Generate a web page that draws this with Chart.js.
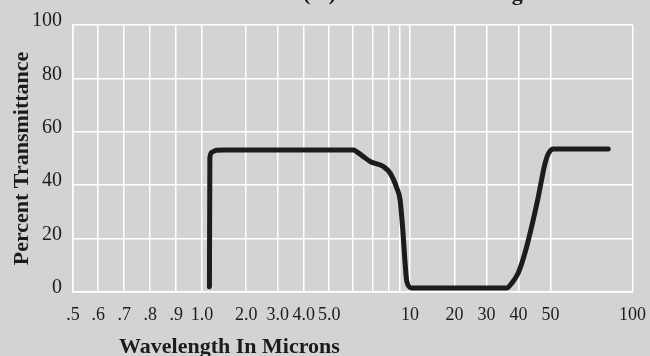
<!DOCTYPE html>
<html>
<head>
<meta charset="utf-8">
<script src="https://cdn.jsdelivr.net/npm/chart.js@4/dist/chart.umd.min.js"></script>
<style>
  html, body { margin: 0; padding: 0; background: #d2d3d5; }
  canvas { display: block; }
</style>
</head>
<body>
<canvas id="chart" width="650" height="356"></canvas>
<script>
// Ruled lines of the wavelength axis and their labels (6-9 µm lines are unlabelled)
const gridMicrons = [0.5, 0.6, 0.7, 0.8, 0.9, 1, 2, 3, 4, 5, 6, 7, 8, 9, 10, 20, 30, 40, 50, 100];
const tickLabels = [".5", ".6", ".7", ".8", ".9", "1.0", "2.0", "3.0", "4.0", "5.0", "", "", "", "", "10", "20", "30", "40", "50", "100"];
// The axis is hand ruled: where each line sits, as % of the axis length
const gridStops = [0, 4.5, 9.15, 13.79, 18.44, 23.04, 30.95, 36.58, 41.22, 45.78, 50.01, 53.58, 56.37, 58.46, 60.25, 68.2, 73.91, 79.63, 85.35, 100];

// Transmission curve
const wavelength = [1.17, 1.18, 1.22, 1.32, 1.5, 6.03, 6.26, 6.53, 6.87, 7.68, 8.15, 8.72, 9.0, 9.27, 9.5, 9.67, 10.38, 36.3, 37.7, 39.9, 42.0, 44.1, 46.2, 48.3, 49.4, 51.7, 85.2];
const transmittance = [2, 50.3, 52.3, 53.1, 53.2, 53.2, 52.2, 50.7, 48.9, 47, 44.5, 38.9, 34.5, 23.3, 10.8, 4, 1.5, 1.5, 3, 7.1, 14.6, 24.5, 35.8, 48.3, 52, 53.6, 53.6];

const INK = "#1e1b1c";
const SERIF = '"Liberation Serif", "Times New Roman", serif';

function interp(v, from, to) {
  const n = from.length;
  let i = 1;
  while (i < n - 1 && v > from[i]) i++;
  const a = from[i - 1], b = from[i];
  return to[i - 1] + (v - a) / (b - a) * (to[i] - to[i - 1]);
}

// linear scale that places values piecewise between the ruled lines
class RuledScale extends Chart.LinearScale {
  static id = "ruled";
  static defaults = Chart.LinearScale.defaults;
  buildTicks() {
    return gridMicrons.map((value) => ({ value }));
  }
  getPixelForValue(value) {
    return this.getPixelForDecimal(interp(value, gridMicrons, gridStops) / 100);
  }
  getValueForPixel(pixel) {
    return interp(this.getDecimalForPixel(pixel) * 100, gridStops, gridMicrons);
  }
}
Chart.register(RuledScale);

const captions = {
  id: "captions",
  afterDraw(chart) {
    const ctx = chart.ctx;
    ctx.save();
    ctx.fillStyle = INK;
    ctx.textAlign = "left";
    ctx.textBaseline = "alphabetic";
    ctx.font = "bold 22px " + SERIF;
    ctx.fillText("Silicon (Si) Transmission Range", 234, 0);
    ctx.fillText("Wavelength In Microns", 119, 352.5);
    ctx.restore();
  },
};

new Chart(document.getElementById("chart"), {
  type: "line",
  data: {
    datasets: [
      {
        data: wavelength.map((x, i) => ({ x, y: transmittance[i] })),
        borderColor: INK,
        borderWidth: 5,
        borderCapStyle: "round",
        borderJoinStyle: "round",
        cubicInterpolationMode: "monotone",
        pointRadius: 0,
        fill: false,
      },
    ],
  },
  plugins: [captions],
  options: {
    responsive: false,
    animation: false,
    devicePixelRatio: 1,
    layout: { padding: { top: 25, right: 17.5, left: 0, bottom: 0 } },
    plugins: { legend: { display: false }, tooltip: { enabled: false } },
    scales: {
      x: {
        type: "ruled",
        min: 0.5,
        max: 100,
        afterFit(scale) {
          scale.height = 64;
          scale.paddingLeft = 0;
          scale.paddingRight = 0;
        },
        grid: { color: "#ffffff", lineWidth: 1.5, drawTicks: false },
        border: { color: "#ffffff", width: 1.5 },
        ticks: {
          autoSkip: false,
          maxRotation: 0,
          padding: 12,
          color: INK,
          font: { family: SERIF, size: 18 },
          callback: (value, index) => tickLabels[index],
        },
      },
      y: {
        min: 0,
        max: 100,
        afterFit(scale) { scale.width = 73; },
        grid: { color: "#ffffff", lineWidth: 1.5, drawTicks: false },
        border: { color: "#ffffff", width: 1.5 },
        ticks: {
          stepSize: 10,
          padding: 11,
          labelOffset: -4,
          color: INK,
          font: { family: SERIF, size: 20 },
          callback: (value) => (value % 20 === 0 ? String(value) : ""),
        },
        title: {
          display: true,
          text: "Percent Transmittance",
          color: INK,
          font: { family: SERIF, size: 22, weight: "bold" },
          padding: { top: 9, bottom: 0 },
        },
      },
    },
  },
});
</script>
</body>
</html>
